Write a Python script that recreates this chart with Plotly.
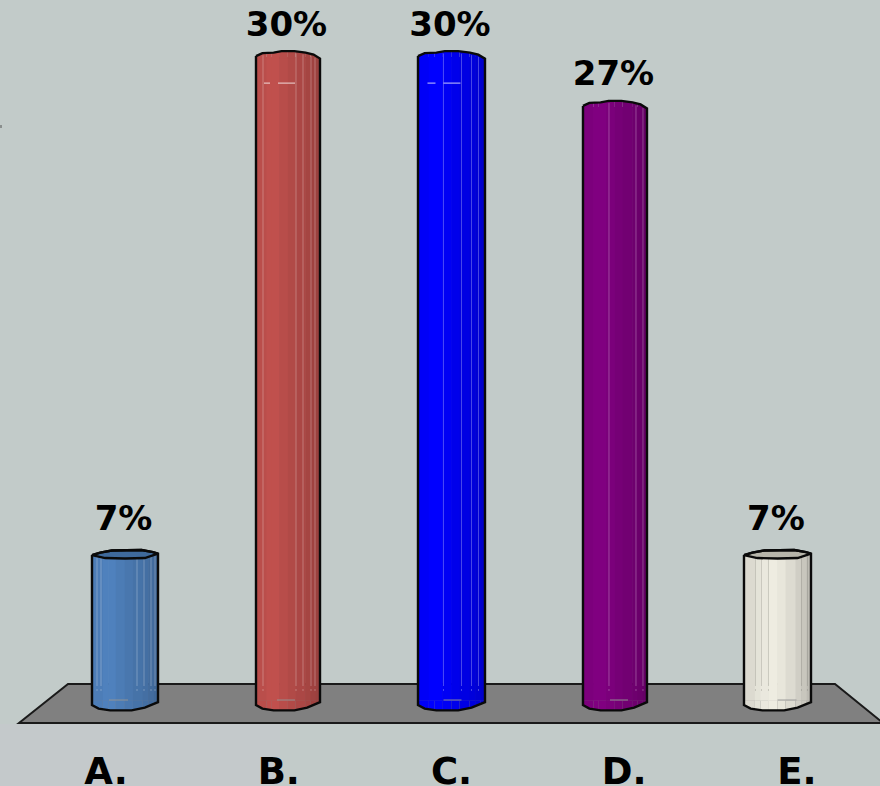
import plotly.graph_objects as go

# ---- data ----
categories = ["A.", "B.", "C.", "D.", "E."]
values = [7.0, 30.0, 30.0, 27.7, 7.0]
value_labels = ["7%", "30%", "30%", "27%", "7%"]
bar_positions = [0.0, 1.0, 2.003, 3.006, 4.003]
bar_widths = [66.0, 64.0, 67.0, 64.0, 67.0]
bar_colors = [(79, 129, 189), (192, 80, 77), (0, 0, 255), (128, 0, 128), (238, 236, 225)]
cap_colors = ["#3f6a9c", None, None, None, "#b7b5aa"]
label_gaps = [33.5, 30.0, 30.0, 30.5, 33.5]

# ---- layout constants ----
W, H = 880, 786
PLOT_BOTTOM = 745
PX_PER_UNIT = 21.65
ZERO_PX = 706.6
BAR_X0, BAR_STEP = 125.0, 163.0
LABEL_X0, LABEL_STEP = 106.0, 172.75

strip_edges = [-1, -.675, -.507, -.28, -.005, .24, .537, .704, .872, 1]
strip_shades = [[.97, 1, 1, .96, .92, .89, .86, .83, .8]] * 4 + [[.925, .96, .985, 1, .975, .93, .875, .84, .79]]

tall_top = [(-1, 1), (-.8, 4), (-.45, 4.5), (-.2, 6), (.2, 6), (.55, 4.5), (.8, 2.5), (1, -1.5)]
short_top = [(-1, 0), (-.75, 2.5), (-.4, 4.5), (.5, 5), (.85, 3), (1, 1.5)]
short_low = [(-1, 0), (-.6, -3), (0, -3.5), (.6, -3), (1, 1.5)]
bottom = [(-1, 1.5), (-.8, -2), (-.45, -3.8), (.2, -3.8), (.6, -1), (1, 4.5)]
line_offsets = [[-28, -24, 12, 19, 26, 30], [-25, 8, 15, 23, 27], [-8, 10, 20, 27],
                [-6, 21, 28], [-22, -16, -9, 24, 30]]
top_dashes = [[], [(-24, -18), (-10, 7)], [(-24, -16), (-8, 9)], [], []]
floor_dashes = [(-16, 3), (-11, 7), (-8, 10), (-5, 13), (0, 19)]


def dy(px):
    return px / PX_PER_UNIT


def dx(px):
    return px / BAR_STEP


def interp(profile, u):
    for (a, pa), (b, pb) in zip(profile, profile[1:]):
        if a <= u <= b:
            return pa + (pb - pa) * (u - a) / (b - a)
    return profile[-1][1]


def rgb(c, k=1.0):
    return "rgb(%d,%d,%d)" % tuple(round(v * k) for v in c)


BASE = dy(6)
N_STRIPS = len(strip_edges) - 1

fig = go.Figure()

# cylinder bodies, one bar trace per shading strip
for k in range(N_STRIPS):
    u0, u1 = strip_edges[k], strip_edges[k + 1]
    extra = 0.6 if k < N_STRIPS - 1 else 0
    fig.add_trace(go.Bar(
        x=bar_positions,
        y=[v - BASE for v in values],
        base=BASE,
        offset=[dx(u0 * w / 2) for w in bar_widths],
        width=[dx((u1 - u0) * w / 2 + extra) for w in bar_widths],
        marker=dict(color=[rgb(c, s[k]) for c, s in zip(bar_colors, strip_shades)], line=dict(width=0)),
        showlegend=False, hoverinfo="skip",
    ))

# curved ends of the cylinders
for i, v in enumerate(values):
    top = short_top if cap_colors[i] else tall_top
    pos, half = bar_positions[i], bar_widths[i] / 2
    for k in range(N_STRIPS):
        u0, u1 = strip_edges[k], strip_edges[k + 1]
        color = rgb(bar_colors[i], strip_shades[i][k])
        us = [u0] + [p[0] for p in bottom if u0 < p[0] < u1] + [u1]
        xs = [pos + dx(u * half) for u in us]
        fig.add_trace(go.Scatter(
            x=xs + [xs[-1], xs[0]], y=[dy(interp(bottom, u)) for u in us] + [BASE + .02, BASE + .02],
            mode="lines", fill="toself", fillcolor=color, line=dict(width=0),
            showlegend=False, hoverinfo="skip"))
        if not cap_colors[i]:
            us = [u0] + [p[0] for p in top if u0 < p[0] < u1] + [u1]
            xs = [pos + dx(u * half) for u in us]
            fig.add_trace(go.Scatter(
                x=xs + [xs[-1], xs[0]], y=[v + dy(interp(top, u)) for u in us] + [v - .05, v - .05],
                mode="lines", fill="toself", fillcolor=color, line=dict(width=0),
                showlegend=False, hoverinfo="skip"))

# highlight lines
FLOOR_Y = dy(ZERO_PX - 684)
for i, v in enumerate(values):
    c = "rgba(120,120,110,0.28)" if i == 4 else "rgba(255,255,255,0.28)"
    top = short_top if cap_colors[i] else tall_top
    pos, half = bar_positions[i], bar_widths[i] / 2
    xs, ys, xd, yd = [], [], [], []
    for off in line_offsets[i]:
        u = off / half
        xs += [pos + dx(off), pos + dx(off), None]
        ys += [v + dy(interp(top, u)) - .1, FLOOR_Y, None]
        xd += [pos + dx(off), pos + dx(off), None]
        yd += [FLOOR_Y, dy(ZERO_PX - 694), None]
    fig.add_trace(go.Scatter(x=xs, y=ys, mode="lines", line=dict(color=c, width=1),
                             showlegend=False, hoverinfo="skip"))
    fig.add_trace(go.Scatter(x=xd, y=yd, mode="lines", line=dict(color=c, width=1, dash="2px 3px"),
                             showlegend=False, hoverinfo="skip"))
    a, b = floor_dashes[i]
    fig.add_trace(go.Scatter(x=[pos + dx(a), pos + dx(b)], y=[dy(ZERO_PX - 700)] * 2, mode="lines",
                             line=dict(color="rgba(150,150,150,0.9)", width=1),
                             showlegend=False, hoverinfo="skip"))
    for a, b in top_dashes[i]:
        fig.add_trace(go.Scatter(x=[pos + dx(a), pos + dx(b)], y=[v - dy(26)] * 2, mode="lines",
                                 line=dict(color="rgba(255,255,255,0.8)", width=1),
                                 showlegend=False, hoverinfo="skip"))

# outlines and caps
for i, v in enumerate(values):
    top = short_top if cap_colors[i] else tall_top
    pos, half = bar_positions[i], bar_widths[i] / 2
    xs = [pos + dx(u * half) for u, _ in top]
    ys = [v + dy(p) for _, p in top]
    xb = [pos + dx(u * half) for u, _ in reversed(bottom)]
    yb = [dy(p) for _, p in reversed(bottom)]
    if cap_colors[i]:
        xl = [pos + dx(u * half) for u, _ in reversed(short_low)]
        yl = [v + dy(p) for _, p in reversed(short_low)]
        fig.add_trace(go.Scatter(x=xs + xl, y=ys + yl, mode="lines", fill="toself",
                                 fillcolor=cap_colors[i], line=dict(color="#0a0a0a", width=2.4),
                                 showlegend=False, hoverinfo="skip"))
    fig.add_trace(go.Scatter(x=xs + xb + xs[:1], y=ys + yb + ys[:1], mode="lines",
                             line=dict(color="#0a0a0a", width=2.4),
                             showlegend=False, hoverinfo="skip"))

# value labels
fig.add_trace(go.Scatter(
    x=[p + dx(-1.5) for p in bar_positions],
    y=[v + dy(g) for v, g in zip(values, label_gaps)],
    text=value_labels, mode="text", textposition="middle center",
    textfont=dict(family="DejaVu Sans", size=34, color="#000000", weight="bold"),
    showlegend=False, hoverinfo="skip"))

# category axis carrier
fig.add_trace(go.Scatter(x=categories, y=[0] * len(categories), xaxis="x2", mode="markers",
                         marker=dict(opacity=0), showlegend=False, hoverinfo="skip"))


def px(x):
    return x / W


def py(y):
    return (PLOT_BOTTOM - y) / PLOT_BOTTOM


shapes = [
    dict(type="rect", xref="paper", yref="paper", x0=0, x1=px(280), y0=py(786), y1=py(724),
         fillcolor="#c4c9cb", line=dict(width=0), layer="below"),
    dict(type="rect", xref="paper", yref="paper", x0=0, x1=px(2), y0=py(128), y1=py(125),
         fillcolor="#8a8f8e", line=dict(width=0), layer="below"),
    dict(type="path", xref="paper", yref="paper", layer="below",
         path="M %f %f L %f %f L %f %f L %f %f Z" % (px(19), py(723), px(68), py(684), px(835), py(684), px(883), py(723)),
         fillcolor="#808080", line=dict(color="#1a1a1a", width=2)),
]

fig.update_layout(
    width=W, height=H,
    margin=dict(l=0, r=0, t=0, b=H - PLOT_BOTTOM, pad=0, autoexpand=False),
    paper_bgcolor="#c2cbc9", plot_bgcolor="rgba(0,0,0,0)",
    barmode="overlay", showlegend=False, shapes=shapes,
    xaxis=dict(range=[(0 - BAR_X0) / BAR_STEP, (W - BAR_X0) / BAR_STEP], visible=False, fixedrange=True),
    xaxis2=dict(
        type="category", categoryorder="array", categoryarray=categories, overlaying="x", side="bottom",
        anchor="y",
        range=[(0 - LABEL_X0) / LABEL_STEP, (W - LABEL_X0) / LABEL_STEP],
        showgrid=False, zeroline=False, showline=False, ticks="",
        tickfont=dict(family="DejaVu Sans", size=37, color="#000000", weight="bold"),
        ticklabelstandoff=1, fixedrange=True),
    yaxis=dict(range=[(ZERO_PX - PLOT_BOTTOM) / PX_PER_UNIT, ZERO_PX / PX_PER_UNIT], visible=False, fixedrange=True),
)

fig.write_html("out.html", config=dict(displayModeBar=False),
               post_script="document.body.style.margin='0';document.documentElement.style.overflow='hidden';")
